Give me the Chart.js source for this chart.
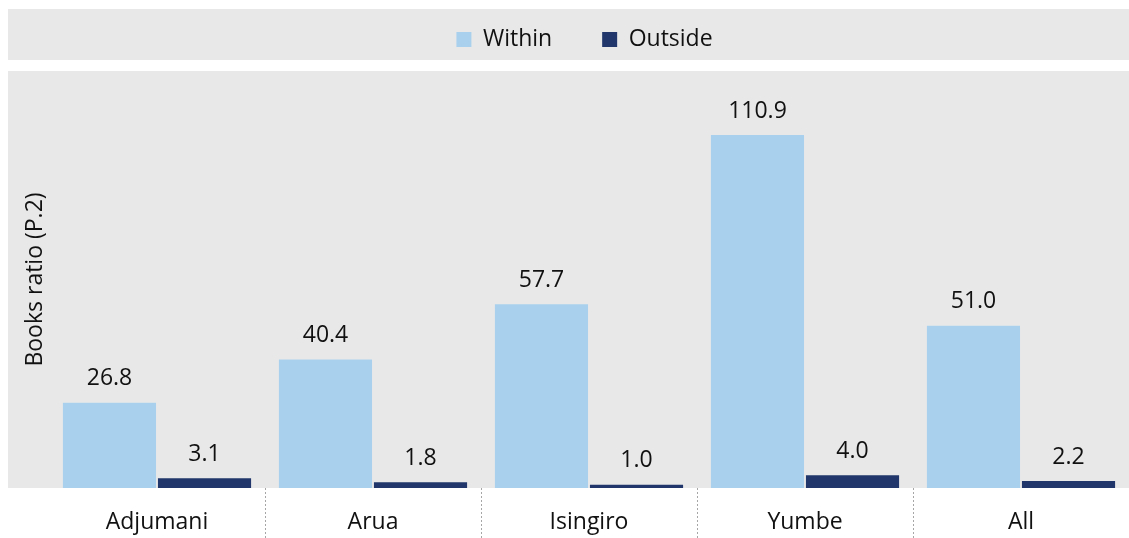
<!DOCTYPE html>
<html lang="en">
<head>
<meta charset="UTF-8">
<title>Books ratio (P.2)</title>
<script src="https://cdn.jsdelivr.net/npm/chart.js@4.4.1/dist/chart.umd.min.js"></script>
<style>
  html, body { margin: 0; padding: 0; background: #ffffff; }
</style>
</head>
<body>
<canvas id="myChart" width="1129" height="538"></canvas>
<script>
    // chart values
    const districts = ['Adjumani', 'Arua', 'Isingiro', 'Yumbe', 'All'];
    const withinValues = [26.8, 40.4, 57.7, 110.9, 51.0];
    const outsideValues = [3.1, 1.8, 1.0, 4.0, 2.2];
    const seriesNames = ['Within', 'Outside'];
    const yTitle = 'Books ratio (P.2)';

    const panelGray = '#e8e8e8';

    // extra room under the legend, and nudge it a bit right
    const legendSpace = {
        id: 'legendSpace',
        beforeUpdate(chart) {
            const lg = chart.legend;
            if (lg && !lg._spaced) {
                const fit = lg.fit;
                lg.fit = function () {
                    fit.call(this);
                    this.height += 10;
                };
                lg._spaced = true;
            }
        },
        afterLayout(chart) {
            chart.legend.left += 16;
            chart.legend.right += 16;
        }
    };

    // gray panels behind legend and plot
    const panels = {
        id: 'panels',
        beforeDraw(chart) {
            const ctx = chart.ctx;
            const area = chart.chartArea;
            ctx.save();
            ctx.fillStyle = panelGray;
            ctx.fillRect(8, area.top - 62, chart.width - 8, 51);
            ctx.fillRect(8, area.top, chart.width - 8, area.bottom - area.top);
            ctx.restore();
        }
    };

    // value labels above each bar
    const valueLabels = {
        id: 'valueLabels',
        afterDatasetsDraw(chart) {
            const ctx = chart.ctx;
            ctx.save();
            ctx.font = '23px "Open Sans"';
            ctx.fillStyle = '#111';
            ctx.textAlign = 'center';
            ctx.textBaseline = 'middle';
            chart.data.datasets.forEach((ds, i) => {
                chart.getDatasetMeta(i).data.forEach((bar, j) => {
                    ctx.fillText(ds.data[j].toFixed(1), bar.x, bar.y - 24);
                });
            });
            ctx.restore();
        }
    };

    function start() {
        Chart.defaults.font.family = '"Open Sans", sans-serif';
        Chart.defaults.font.size = 23;
        Chart.defaults.color = '#111';

        const ctx = document.getElementById('myChart');
        new Chart(ctx, {
            type: 'bar',
            data: {
                labels: districts,
                datasets: [{
                    label: seriesNames[0],
                    data: withinValues,
                    backgroundColor: '#a9d1ee',
                    categoryPercentage: 0.88,
                    barPercentage: 0.98
                }, {
                    label: seriesNames[1],
                    data: outsideValues,
                    backgroundColor: '#21376b',
                    categoryPercentage: 0.88,
                    barPercentage: 0.98
                }]
            },
            options: {
                responsive: false,
                animation: false,
                layout: {
                    padding: { top: -22, left: 8, right: 0, bottom: 0 }
                },
                scales: {
                    x: {
                        offset: true,
                        border: { display: false },
                        grid: {
                            offset: true,
                            drawOnChartArea: false,
                            drawTicks: true,
                            tickLength: 50,
                            tickWidth: 1,
                            tickBorderDash: [2, 2],
                            color: c => (c.type === 'tick' && c.index > 0) ? '#a6a6a6' : 'rgba(0,0,0,0)'
                        },
                        ticks: {
                            padding: -29,
                            color: '#111',
                            font: { size: 23 }
                        },
                        afterFit(scale) { scale.height = 50; }
                    },
                    y: {
                        min: 0,
                        max: 131,
                        border: { display: false },
                        grid: { display: false },
                        ticks: { display: false },
                        title: {
                            display: true,
                            text: yTitle,
                            color: '#111',
                            font: { size: 23 },
                            padding: { top: 14, bottom: 0 }
                        },
                        afterFit(scale) { scale.width = 41; }
                    }
                },
                plugins: {
                    legend: {
                        display: true,
                        position: 'top',
                        labels: {
                            boxWidth: 15,
                            boxHeight: 15,
                            padding: 50,
                            color: '#111',
                            font: { size: 23 }
                        }
                    },
                    tooltip: { enabled: false }
                }
            },
            plugins: [legendSpace, panels, valueLabels]
        });
    }

    document.fonts.load('23px "Open Sans"').then(start, start);
</script>
</body>
</html>
